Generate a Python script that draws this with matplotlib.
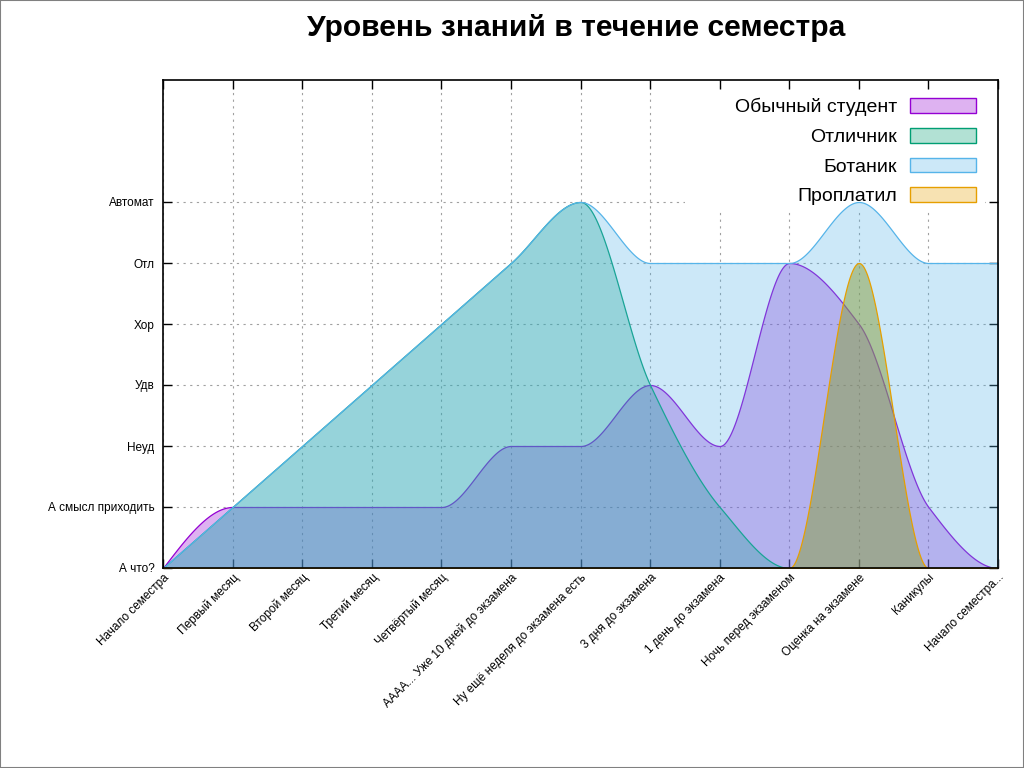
import numpy as np
import matplotlib
matplotlib.use("Agg")
import matplotlib.pyplot as plt
from matplotlib.patches import Patch, Rectangle

plt.rcParams['font.family'] = ['Liberation Sans', 'DejaVu Sans']

x_labels = ["Начало семестра", "Первый месяц", "Второй месяц", "Третий месяц",
            "Четвёртый месяц", "АААА... Уже 10 дней до экзамена",
            "Ну ещё неделя до экзамена есть", "3 дня до экзамена",
            "1 день до экзамена", "Ночь перед экзаменом", "Оценка на экзамене",
            "Каникулы", "Начало семестра..."]
y_labels = ["А что?", "А смысл приходить", "Неуд", "Удв", "Хор", "Отл", "Автомат"]

series_names = ["Обычный студент", "Отличник", "Ботаник", "Проплатил"]
regular = [0, 1, 1, 1, 1, 2, 2, 3, 2, 5, 4, 1, 0]
excellent = [0, 1, 2, 3, 4, 5, 6, 3, 1, 0, 0, 0, 0]
nerd = [0, 1, 2, 3, 4, 5, 6, 5, 5, 5, 6, 5, 5]
paid = [0, 0, 0, 0, 0, 0, 0, 0, 0, 0, 5, 0, 0]
colors = ["#9400D3", "#009E73", "#56B4E9", "#E69F00"]
# fill colours as they appear in the plot area
plot_fills = [("#9400D3", 0.3), ("#009E73", 0.3), ("#56B4E9", 0.3), ("#889D3D", 0.5)]


def pchip(x, y, xs):
    x = np.asarray(x, float)
    y = np.asarray(y, float)
    h = np.diff(x)
    d = np.diff(y) / h
    n = len(x)
    m = np.zeros(n)
    for k in range(1, n - 1):
        if d[k - 1] * d[k] > 0:
            w1 = 2 * h[k] + h[k - 1]
            w2 = h[k] + 2 * h[k - 1]
            m[k] = (w1 + w2) / (w1 / d[k - 1] + w2 / d[k])

    def edge(h0, h1, d0, d1):
        v = ((2 * h0 + h1) * d0 - h0 * d1) / (h0 + h1)
        if np.sign(v) != np.sign(d0):
            v = 0.0
        elif np.sign(d0) != np.sign(d1) and abs(v) > abs(3 * d0):
            v = 3 * d0
        return v

    m[0] = edge(h[0], h[1], d[0], d[1])
    m[-1] = edge(h[-1], h[-2], d[-1], d[-2])
    idx = np.clip(np.searchsorted(x, xs) - 1, 0, n - 2)
    t = (xs - x[idx]) / h[idx]
    h00 = 2 * t**3 - 3 * t**2 + 1
    h10 = t**3 - 2 * t**2 + t
    h01 = -2 * t**3 + 3 * t**2
    h11 = t**3 - t**2
    return h00 * y[idx] + h10 * h[idx] * m[idx] + h01 * y[idx + 1] + h11 * h[idx] * m[idx + 1]


fig = plt.figure(figsize=(10.24, 7.68), dpi=100)
ax = fig.add_axes([163 / 1024, 1 - 568 / 768, 835 / 1024, 488 / 768])

xpos = np.arange(len(x_labels))
xs = np.linspace(0, len(x_labels) - 1, 1200)

for i, (vals, c, (fc, fa)) in enumerate(zip([regular, excellent, nerd, paid], colors, plot_fills)):
    ys = pchip(xpos, vals, xs)
    rgb = matplotlib.colors.to_rgb(fc)
    ax.fill_between(xs, 0, ys, facecolor=(*rgb, fa), edgecolor=c,
                    linewidth=0.9, zorder=1 + i * 0.1)

ax.set_xlim(0, len(x_labels) - 1)
ax.set_ylim(0, 8)
ax.set_xticks(xpos)
ax.set_xticklabels(x_labels, rotation=45, ha='right', va='top',
                   rotation_mode='anchor', fontsize=8.5)
ax.set_yticks(np.arange(len(y_labels)))
ax.set_yticklabels(y_labels, fontsize=8.5)
ax.tick_params(direction='in', length=6.5, width=1, top=True, right=True,
               color='black')
ax.tick_params(axis='y', pad=6)
ax.tick_params(axis='x', pad=2.5)
ax.set_axisbelow(True)
ax.grid(True, color='#A0A0A0', linestyle=(0, (2, 4)), linewidth=0.8)
for s in ax.spines.values():
    s.set_linewidth(1.2)
    s.set_color('black')

# opaque key background
ax.add_patch(Rectangle((0.6251, 0.7336), 0.984 - 0.6251, 0.9795 - 0.7336,
                       transform=ax.transAxes, facecolor='white',
                       edgecolor='none', zorder=0.9))

handles = [Patch(facecolor=(*matplotlib.colors.to_rgb(c), 0.3), edgecolor=c,
                 linewidth=1) for c in colors]
leg = ax.legend(handles, series_names, loc='upper right',
                bbox_to_anchor=(0.9737, 0.963), frameon=False, fontsize=14,
                markerfirst=False, handlelength=3.4, handleheight=0.77,
                handletextpad=0.67, labelspacing=0.6, borderpad=0,
                borderaxespad=0)

fig.text(576 / 1024, 1 - 28 / 768, "Уровень знаний в течение семестра",
         ha='center', va='center', fontsize=21.6, fontweight='bold')

fig.patches.append(Rectangle((0, 0), 1, 1, transform=fig.transFigure,
                             facecolor='none', edgecolor='#808080',
                             linewidth=1.5))

fig.savefig("out.png", dpi=100)
